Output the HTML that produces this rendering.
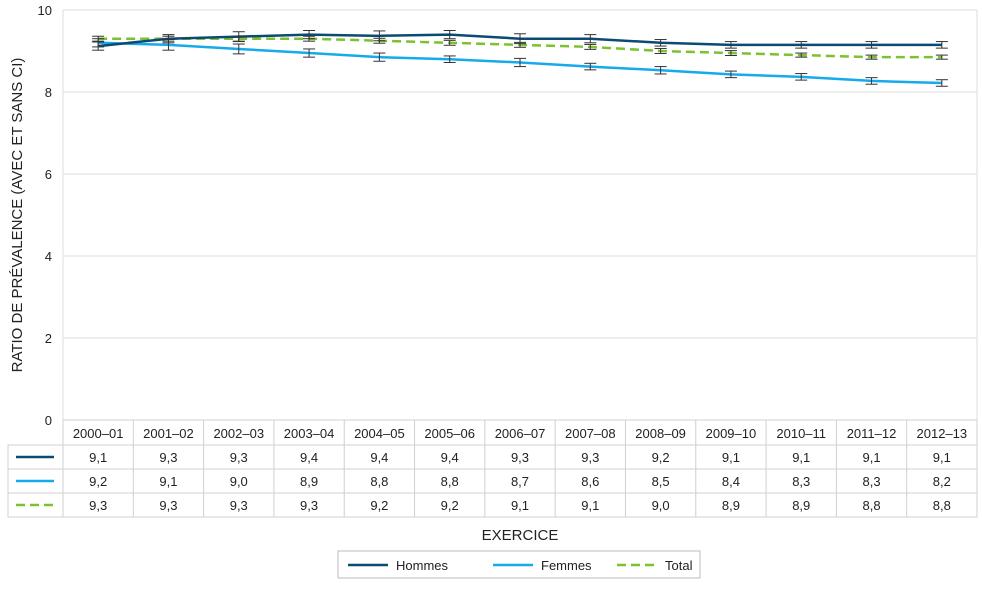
<!DOCTYPE html>
<html><head><meta charset="utf-8"><style>
body{margin:0;background:#fff;font-family:"Liberation Sans",sans-serif}
svg text{font-family:"Liberation Sans",sans-serif}
</style></head><body>
<svg id="c" width="982" height="584"></svg>
<script>
const categories=["2000–01","2001–02","2002–03","2003–04","2004–05","2005–06","2006–07","2007–08","2008–09","2009–10","2010–11","2011–12","2012–13"];
const hommes=[9.12,9.3,9.35,9.4,9.37,9.4,9.3,9.3,9.2,9.15,9.15,9.15,9.15];
const femmes=[9.2,9.15,9.05,8.95,8.85,8.8,8.72,8.62,8.53,8.43,8.37,8.27,8.22];
const total=[9.3,9.3,9.3,9.3,9.25,9.2,9.15,9.1,9.0,8.95,8.9,8.85,8.85];
const ciH=[0.1,0.1,0.12,0.1,0.12,0.1,0.12,0.1,0.08,0.08,0.08,0.08,0.08];
const ciF=[0.1,0.13,0.12,0.1,0.1,0.08,0.1,0.08,0.09,0.08,0.08,0.08,0.08];
const ciT=[0.06,0.06,0.06,0.06,0.06,0.06,0.06,0.06,0.06,0.06,0.05,0.05,0.05];
const hommesLbl=["9,1","9,3","9,3","9,4","9,4","9,4","9,3","9,3","9,2","9,1","9,1","9,1","9,1"];
const femmesLbl=["9,2","9,1","9,0","8,9","8,8","8,8","8,7","8,6","8,5","8,4","8,3","8,3","8,2"];
const totalLbl=["9,3","9,3","9,3","9,3","9,2","9,2","9,1","9,1","9,0","8,9","8,9","8,8","8,8"];
const yTicks=[0,2,4,6,8,10];
const svg=document.getElementById('c');const NS="http://www.w3.org/2000/svg";
const L=63,R=977,T=10,B=420,cw=(R-L)/categories.length;
const x=i=>L+cw*(i+0.5);const y=v=>B-(v/10)*(B-T);
function el(t,a,p){const e=document.createElementNS(NS,t);for(const k in a)e.setAttribute(k,a[k]);(p||svg).appendChild(e);return e;}
function txt(s,a){const e=el('text',a);e.textContent=s;return e;}
yTicks.forEach(v=>{const g=el('line',{x1:L,x2:R,y1:y(v),y2:y(v),stroke:'#dedede'});

const t=txt(v,{x:52,y:y(v)+5,'text-anchor':'end','font-size':13,fill:'#222'});
});
el('line',{x1:L,x2:L,y1:T,y2:B,stroke:'#dedede'});el('line',{x1:R,x2:R,y1:T,y2:B,stroke:'#dedede'});
const yt=txt("RATIO DE PRÉVALENCE (AVEC ET SANS CI)",{transform:'translate(22,215) rotate(-90)','text-anchor':'middle','font-size':15,fill:'#222'});

const rows=[[420,445],[445,469],[469,493],[493,517]];
const tg=el('g',{stroke:'#d0d0d0','stroke-width':1,fill:'none'});

el('rect',{x:L,y:420,width:R-L,height:97},tg);el('rect',{x:8,y:445,width:L-8,height:72},tg);
rows.forEach(r=>el('line',{x1:(r[0]==420?L:8),x2:R,y1:r[1],y2:r[1]},tg));
for(let i=1;i<categories.length;i++)el('line',{x1:L+cw*i,x2:L+cw*i,y1:420,y2:517},tg);
const series=[[hommes,ciH,hommesLbl,'#0b4a73',''],[femmes,ciF,femmesLbl,'#15aaeb',''],[total,ciT,totalLbl,'#7cc22e','9,5']];
categories.forEach((c,i)=>{const t=txt(c,{x:x(i),y:438,'text-anchor':'middle','font-size':13,fill:'#222'});
});
series.forEach((s,k)=>{const ry=rows[k+1];const my=(ry[0]+ry[1])/2;
el('line',{x1:16,x2:54,y1:my,y2:my,stroke:s[3],'stroke-width':2.5,'stroke-dasharray':s[4]});
s[2].forEach((v,i)=>{const t=txt(v,{x:x(i),y:my+5,'text-anchor':'middle','font-size':13,fill:'#222'});
});});
[2,1,0].forEach(k=>{const s=series[k];
const p=el('polyline',{points:s[0].map((v,i)=>x(i)+','+y(v)).join(' '),fill:'none',stroke:s[3],'stroke-width':2.5,'stroke-dasharray':s[4]});
});
series.forEach(s=>s[0].forEach((v,i)=>{const g=el('g',{stroke:'#333','stroke-width':1});

const a=y(v+s[1][i]),b=y(v-s[1][i]);
el('line',{x1:x(i),x2:x(i),y1:a,y2:b},g);el('line',{x1:x(i)-6,x2:x(i)+6,y1:a,y2:a},g);el('line',{x1:x(i)-6,x2:x(i)+6,y1:b,y2:b},g);}));
const xt=txt("EXERCICE",{x:520,y:540,'text-anchor':'middle','font-size':15,fill:'#222'});

const lg=el('g',{});
el('rect',{x:338,y:551,width:362,height:27,fill:'#fff',stroke:'#bbb'},lg);
[["Hommes",348,'#0b4a73',''],["Femmes",493,'#15aaeb',''],["Total",617,'#7cc22e','9,5']].forEach(e=>{
el('line',{x1:e[1],x2:e[1]+40,y1:565,y2:565,stroke:e[2],'stroke-width':2.5,'stroke-dasharray':e[3]},lg);
const t=el('text',{x:e[1]+48,y:570,'font-size':13,fill:'#222'},lg);t.textContent=e[0];
});
</script></body></html>
